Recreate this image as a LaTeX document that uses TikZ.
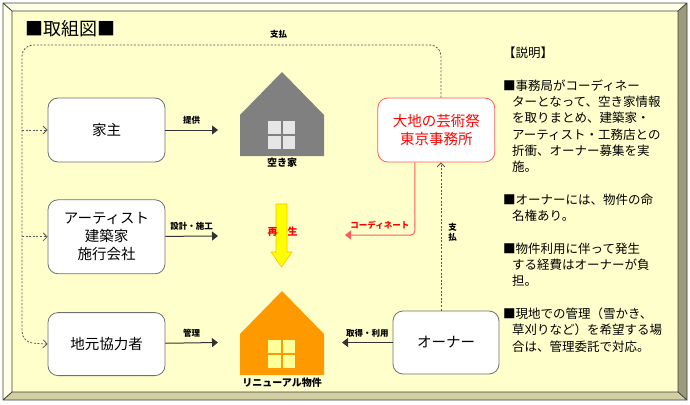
\documentclass[tikz,border=0pt]{standalone}
\usepackage{fontspec}
\setmainfont{Noto Sans CJK JP}
\usetikzlibrary{positioning,arrows.meta}

\definecolor{faceYellow}{HTML}{FFFFCC}
\definecolor{bevelLight}{HTML}{FFFFE6}
\definecolor{bevelDark}{HTML}{9C9C7C}
\definecolor{bevelMid}{HTML}{D2CFA2}
\definecolor{frameLine}{HTML}{404040}
\definecolor{boxLine}{HTML}{707070}
\definecolor{coordRed}{HTML}{FF5A5A}
\definecolor{houseGray}{HTML}{808080}
\definecolor{houseOrange}{HTML}{FF9900}
\definecolor{paneGray}{HTML}{E6E6E6}
\definecolor{paneYellow}{HTML}{FFFF99}
\definecolor{arrowYellow}{HTML}{FFFF00}
\definecolor{arrowEdge}{HTML}{FFC000}

\tikzset{
  box/.style={draw=boxLine, fill=white, rounded corners=10pt, line width=0.8pt,
    minimum width=117pt, minimum height=64pt, inner sep=0pt, align=center,
    font=\fontsize{14.5}{18}\selectfont},
  flow/.style={draw=black!80, line width=1pt, -{Triangle[length=6pt,width=9pt]}},
  paydash/.style={draw=black!65, line width=0.8pt, dash pattern=on 2pt off 1.6pt},
  paytip/.style={-{Straight Barb[length=4pt,width=8pt]}},
  tag/.style={font=\fontsize{8.5}{10}\selectfont\bfseries, inner sep=1pt},
}

\begin{document}
\begin{tikzpicture}[x=1pt, y=-1pt, node distance=37pt]
    \useasboundingbox (0,0) rectangle (690,404);
    % raised panel
    \fill[bevelLight] (3,3) -- (687,3) -- (678,11) -- (12,11) -- (12,392) -- (3,400) -- cycle;
    \fill[bevelDark] (687,3) -- (687,400) -- (678,392) -- (678,11) -- cycle;
    \fill[bevelMid] (3,400) -- (687,400) -- (678,392) -- (12,392) -- cycle;
    \fill[faceYellow] (12,11) rectangle (678,392);
    \draw[frameLine, line width=0.8pt] (3,3) rectangle (687,400) (12,11) rectangle (678,392)
        (3,3) -- (12,11) (687,3) -- (678,11) (3,400) -- (12,392) (687,400) -- (678,392);

    \node[anchor=west, font=\fontsize{18}{20}\selectfont] (title) at (22,29) {■取組図■};

    % houses
    \foreach \dy/\wall/\pane in {0/houseGray/paneGray, 219/houseOrange/paneYellow} {
      \begin{scope}[shift={(0,\dy)}]
        \fill[\wall] (240,156) -- (240,115) -- (282,72) -- (324,115) -- (324,156) -- cycle;
        \foreach \px in {268,282.5} \foreach \py in {121,136}
          \fill[\pane] (\px,\py) rectangle ++(12.5,13);
      \end{scope}
    }
    \node[tag, font=\fontsize{10}{12}\selectfont\bfseries] (akiya) at (282,163) {空き家};
    \node[tag, font=\fontsize{10}{12}\selectfont\bfseries] (renewal) at (282,383) {リニューアル物件};

    \filldraw[fill=arrowYellow, draw=arrowEdge, line width=0.6pt] (276,204) -- (287,204) -- (287,252)
        -- (292,252) -- (281.5,267) -- (271,252) -- (276,252) -- cycle;
    \node[font=\fontsize{10}{12}\selectfont\bfseries, text=red] (saisei) at (282.5,232) {再　生};

    % actors
    \node[box] (yanushi) at (106.5,130) {家主};
    \node[box, minimum height=74pt, below=37pt of yanushi] (artist) {アーティスト\\建築家\\施行会社};
    \node[box, minimum height=63pt, below=38pt of artist] (jimoto) {地元協力者};
    \node[box, draw=coordRed, text=red, right=212pt of yanushi] (daichi) {大地の芸術祭\\東京事務所};
    \node[box, minimum width=106pt, minimum height=63pt] (owner) at (446,342.5) {オーナー};

    \coordinate (akiyaIn) at (218,130);
    \coordinate (sekouIn) at (218,236);
    \coordinate (kanriIn) at (218,342.5);
    \coordinate (ownIn) at (342,342.5);
    \coordinate (coordIn) at (345,235);
    \coordinate (payTR) at (441,45);
    \coordinate (payTL) at (22,45);
    \coordinate (payBL) at (22,342.5);

    \draw[flow] (yanushi) -- node[tag, above=4pt] (teikyo) {提供} (akiyaIn);
    \draw[flow] (artist) -- node[tag, above=4pt] (sekkei) {設計・施工} (sekouIn);
    \draw[flow] (jimoto) -- node[tag, above=4pt] (kanri) {管理} (kanriIn);
    \draw[flow] (owner) -- node[tag, above=4pt] (shutoku) {取得・利用} (ownIn);
    \draw[draw=coordRed, line width=1pt, rounded corners=4pt, -{Triangle[length=6pt,width=9pt]}]
        ([xshift=-21.5pt]daichi.south) |- node[tag, text=red, pos=0.75, above=4pt] (coordTag) {コーディネート} (coordIn);

    % payment loop
    \draw[paydash, paytip, rounded corners=11pt] (daichi.north -| payTR) -- (payTR) -- (payTL) -- (payBL) -- (jimoto.west);
    \draw[paydash, paytip] (payTL |- yanushi) -- (yanushi.west);
    \draw[paydash, paytip] (payTL |- artist) -- (artist.west);
    \draw[paydash, paytip] (owner.north -| payTR) -- (daichi.south -| payTR);
    \node[tag] (payTop) at (278.5,34) {支払};
    \node[tag, align=center, inner sep=0pt] (paySide) at (452.5,232) {支\\払};

    \node[anchor=north west, align=left, inner sep=0pt, font=\fontsize{12.5}{16.3}\selectfont] (setsumei) at (503,47)
      {【説明】\\[16.3pt]
       ■事務局がコーディネー\\
       \hspace*{9pt}ターとなって、空き家情報\\
       \hspace*{9pt}を取りまとめ、建築家・\\
       \hspace*{9pt}アーティスト・工務店との\\
       \hspace*{9pt}折衝、オーナー募集を実\\
       \hspace*{9pt}施。\\[16.3pt]
       ■オーナーには、物件の命\\
       \hspace*{9pt}名権あり。\\[16.3pt]
       ■物件利用に伴って発生\\
       \hspace*{9pt}する経費はオーナーが負\\
       \hspace*{9pt}担。\\[16.3pt]
       ■現地での管理（雪かき、\\
       \hspace*{9pt}草刈りなど）を希望する場\\
       \hspace*{9pt}合は、管理委託で対応。};
\end{tikzpicture}
\end{document}
